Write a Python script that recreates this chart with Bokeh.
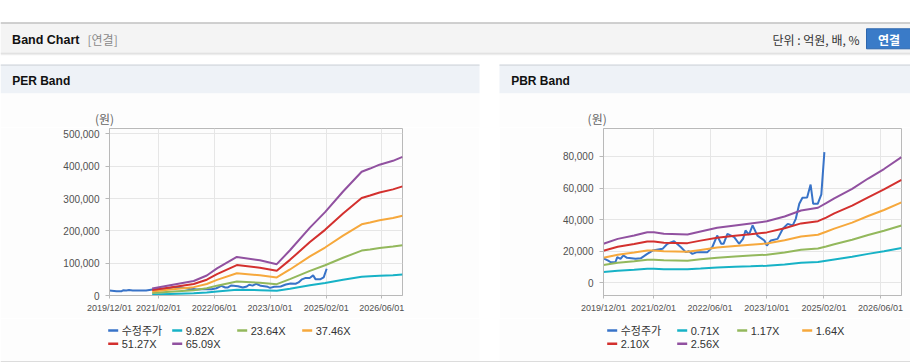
import pandas as pd
from bokeh.plotting import figure
from bokeh.layouts import column, row
from bokeh.models import Range1d, FixedTicker, DatetimeTickFormatter, NumeralTickFormatter, ColumnDataSource, Spacer
from bokeh.core.properties import value
from bokeh.embed import file_html
from bokeh.resources import INLINE

# ---------------- data ----------------
price_dates = ["2019-12-01", "2020-01-10", "2020-02-01", "2020-03-12", "2020-03-28", "2020-04-25", "2020-05-20",
               "2020-06-20", "2020-09-01", "2020-10-15", "2020-12-10", "2021-01-25", "2021-04-20", "2021-06-01",
               "2021-07-28", "2021-09-25", "2021-11-05", "2021-12-01", "2022-01-01", "2022-02-10", "2022-05-10",
               "2022-06-20", "2022-08-01", "2022-09-05", "2022-09-25", "2022-10-28", "2022-12-25", "2023-02-05",
               "2023-03-12", "2023-04-01", "2023-05-01", "2023-06-01", "2023-07-12", "2023-09-10", "2023-10-01",
               "2023-11-05", "2024-01-01", "2024-02-15", "2024-03-28", "2024-05-10", "2024-06-05", "2024-07-05",
               "2024-08-01", "2024-09-10", "2024-10-10", "2024-11-01", "2024-12-10", "2025-01-10", "2025-02-05"]
price = [15500, 14000, 13000, 13000, 16200, 15200, 17300, 15800, 15200, 15500, 18300, 20400, 21500, 24700,
         26300, 22500, 19400, 20000, 18300, 19400, 19400, 22500, 29900, 24700, 24700, 31000, 28900, 24700,
         28000, 33100, 30500, 36300, 29900, 26800, 23600, 26800, 27800, 34200, 37300, 36300, 40500, 50000,
         53800, 54000, 62200, 50000, 50000, 56000, 82700]

per_dates = ["2020-12-07", "2021-05-12", "2021-12-04", "2022-03-28", "2022-06-25", "2022-12-15", "2023-07-04",
             "2023-11-28", "2024-03-22", "2024-09-12", "2025-01-22", "2025-06-28", "2025-12-07", "2026-02-18",
             "2026-05-12", "2026-09-06", "2026-11-28"]
per_982 = [3300, 4800, 6800, 9400, 12700, 18000, 16400, 14600, 21100, 31700, 38900, 48600, 57800, 59300, 61100, 62900, 64700]
per_2364 = [7900, 11600, 16300, 22500, 30500, 43400, 39600, 35200, 50800, 76300, 93700, 116900, 139100, 142700, 147100, 151500, 155800]
per_3746 = [12500, 18400, 25900, 35700, 48300, 68800, 62700, 55800, 80600, 120900, 148500, 185300, 220400, 226200, 233100, 240000, 246900]
per_5127 = [17100, 25100, 35400, 48800, 66200, 94100, 85900, 76400, 110300, 165400, 203200, 253600, 301700, 309600, 319000, 328500, 337900]
per_6509 = [21700, 31900, 45000, 62000, 84000, 119500, 109000, 97000, 140000, 210000, 258000, 322000, 383000, 393000, 405000, 417000, 429000]

pbr_dates = ["2019-12-01", "2020-04-01", "2020-08-20", "2020-12-10", "2021-02-05", "2021-05-01", "2021-11-20",
             "2022-03-12", "2022-08-01", "2023-01-01", "2023-05-15", "2023-10-01", "2024-03-01", "2024-07-20",
             "2024-12-12", "2025-02-20", "2025-05-01", "2025-10-01", "2026-02-15", "2026-07-01", "2026-11-28"]
pbr_071 = [6800, 7700, 8300, 8900, 8900, 8600, 8500, 9000, 9700, 10100, 10400, 10800, 11600, 12700, 13200, 14000, 14800, 16500, 18300, 20000, 22000]
pbr_117 = [11300, 12700, 13700, 14600, 14600, 14200, 14000, 14900, 15900, 16600, 17200, 17800, 19200, 20900, 21700, 23000, 24400, 27200, 30200, 32900, 36300]
pbr_164 = [15800, 17800, 19200, 20500, 20500, 19900, 19600, 20800, 22300, 23300, 24100, 24900, 26900, 29300, 30400, 32300, 34300, 38100, 42300, 46100, 50900]
pbr_210 = [20300, 22800, 24500, 26200, 26200, 25400, 25100, 26700, 28500, 29800, 30800, 31900, 34500, 37600, 39000, 41300, 43900, 48800, 54100, 59100, 65200]
pbr_256 = [24700, 27800, 29900, 32000, 32000, 31000, 30600, 32500, 34800, 36300, 37600, 38900, 42000, 45800, 47500, 50400, 53500, 59500, 66000, 72000, 79500]

x_tick_dates = ["2019-12-01", "2021-02-01", "2022-06-01", "2023-10-01", "2025-02-01", "2026-06-01"]
x_start, x_end = "2019-12-01", "2026-11-28"
per_yticks = [0, 100000, 200000, 300000, 400000, 500000]
pbr_yticks = [0, 20000, 40000, 60000, 80000]

per_labels = ["수정주가", "9.82X", "23.64X", "37.46X", "51.27X", "65.09X"]
pbr_labels = ["수정주가", "0.71X", "1.17X", "1.64X", "2.10X", "2.56X"]
colors = ["#3873c8", "#17b2c6", "#93b85c", "#f6a83c", "#d3302e", "#9151a0"]

# ---------------- styles ----------------
W, H = 910, 362
TOP_H = 127
BODY = "#fdfdfd"
LAT = "Liberation Sans, Noto Sans CJK KR"
KR = "Noto Sans CJK KR"
TICKF = "Liberation Sans"
AXC = "#b9b9b9"


def canvas(w, h, x0, x1, y0, y1, bg):
    p = figure(width=w, height=h, x_range=Range1d(x0, x1), y_range=Range1d(y1, y0),
               toolbar_location=None, output_backend="svg", x_axis_type=None, y_axis_type=None,
               min_border=0, background_fill_color=bg, border_fill_color=bg, outline_line_color=None)
    p.grid.visible = False
    return p


def txt(p, x, y, s, size, color, font, align="left", style="normal"):
    p.text(x=[x], y=[y], text=[s], text_font=value(font), text_font_size=value(size),
           text_color=color, text_align=align, text_baseline="middle", text_font_style=style)


# ---------------- top: page header + panel headers ----------------
top = canvas(W, TOP_H, 0, W, 0, TOP_H, "#ffffff")
top.quad(left=[0], right=[W], top=[22], bottom=[52.5], fill_color="#f4f4f4", line_color=None)
top.segment(x0=[0], y0=[22.5], x1=[W], y1=[22.5], line_color="#c2c2c2", line_width=1.5)
top.segment(x0=[0], y0=[52.8], x1=[W], y1=[52.8], line_color="#d6d6d6", line_width=1)
top.segment(x0=[0], y0=[54], x1=[W], y1=[54], line_color="#ededed", line_width=1.5)
txt(top, 11.6, 39, "Band Chart", "12.5px", "#111111", "Liberation Sans", style="bold")
txt(top, 87, 39, "[연결]", "12px", "#8a8a8a", KR)
txt(top, 859, 38.5, "단위 : 억원, 배, %", "12px", "#333333", KR, align="right")
top.quad(left=[866], right=[914], top=[28.3], bottom=[48.3], fill_color="#3a7bc8", line_color="#2d66ad")
txt(top, 888.5, 38.5, "연결", "12px", "#ffffff", KR, align="center", style="bold")

for (x0, x1, title, unit_x) in [(0, 479, "PER Band", 104), (499, W, "PBR Band", 596.7)]:
    top.quad(left=[x0], right=[x1], top=[64], bottom=[93], fill_color="#eef2f7", line_color=None)
    top.quad(left=[x0], right=[x1], top=[93], bottom=[TOP_H], fill_color=BODY, line_color=None)
    top.segment(x0=[x0], y0=[64.6], x1=[x1], y1=[64.6], line_color="#d4d8de", line_width=1.2)
    txt(top, x0 + 11.7, 80, title, "12px", "#111111", "Liberation Sans", style="bold")
    txt(top, unit_x, 117.8, "(원)", "12px", "#666666", KR, align="center")


def chart(w, left, right, yr, yticks, band_dates, bands):
    p = figure(width=w, height=318 - TOP_H, x_axis_type="datetime",
               x_range=Range1d(pd.Timestamp(x_start), pd.Timestamp(x_end)), y_range=Range1d(*yr),
               toolbar_location=None, output_backend="svg",
               min_border_left=left, min_border_right=right, min_border_top=128 - TOP_H, min_border_bottom=23,
               background_fill_color=BODY, border_fill_color=BODY, outline_line_color=AXC)
    ticks = [pd.Timestamp(d).timestamp() * 1000 for d in x_tick_dates]
    p.xaxis.ticker = FixedTicker(ticks=ticks)
    fmt = "%Y/%m/%d"
    p.xaxis.formatter = DatetimeTickFormatter(days=fmt, months=fmt, years=fmt, hours=fmt, minutes=fmt)
    p.yaxis.ticker = FixedTicker(ticks=yticks)
    p.yaxis.formatter = NumeralTickFormatter(format="0,0")
    for ax in (p.xaxis[0], p.yaxis[0]):
        ax.axis_line_color = AXC
        ax.major_tick_line_color = AXC
        ax.minor_tick_line_color = None
        ax.major_tick_in = 0
        ax.major_label_text_font = TICKF
        ax.major_label_text_color = "#505050"
    p.xaxis.major_label_text_font_size = "9px"
    p.yaxis.major_label_text_font_size = "10px"
    p.xaxis.major_tick_out = 3
    p.xaxis.major_label_standoff = 4
    p.yaxis.major_tick_out = 4
    p.yaxis.major_label_standoff = 6
    p.xgrid.grid_line_color = "#e6e6e6"
    p.ygrid.grid_line_color = "#e6e6e6"

    src = ColumnDataSource(dict(x=pd.to_datetime(price_dates), y=price))
    p.line("x", "y", source=src, line_color=colors[0], line_width=2)
    bx = pd.to_datetime(band_dates)
    for i, b in enumerate(bands):
        s = ColumnDataSource(dict(x=bx, y=b))
        p.line("x", "y", source=s, line_color=colors[i + 1], line_width=2)
    return p


chart_l = chart(479, 109, 77, (0, 517000), per_yticks, per_dates,
                [per_982, per_2364, per_3746, per_5127, per_6509])
chart_r = chart(W - 499, 104, W - 901, (-8040, 97660), pbr_yticks, pbr_dates,
                [pbr_071, pbr_117, pbr_164, pbr_210, pbr_256])

# ---------------- bottom: legends ----------------
bot = canvas(W, H - 318, 0, W, 318, H, "#ffffff")
bot.quad(left=[0, 499], right=[479, W], top=[318, 318], bottom=[H, H], fill_color=BODY, line_color=None)
bot.segment(x0=[0], y0=[H - 0.6], x1=[W], y1=[H - 0.6], line_color="#d0d0d0", line_width=1.2)
for labels, r1, r2 in [(per_labels, [107.7, 171.7, 236.7, 301.7], [107.7, 171.7]),
                       (pbr_labels, [606.7, 676.7, 736.7, 801.7], [606.7, 676.7])]:
    pos = [(x, 330) for x in r1] + [(x, 343.3) for x in r2]
    for (x, y), lab, c in zip(pos, labels, colors):
        bot.segment(x0=[x], y0=[y], x1=[x + 10], y1=[y], line_color=c, line_width=2.5)
        txt(bot, x + 13.5, y, lab, "11px", "#333333", LAT)

root = column(top, row(chart_l, Spacer(width=20, height=318 - TOP_H), chart_r), bot)

open("out.html", "w").write(file_html(root, INLINE))
